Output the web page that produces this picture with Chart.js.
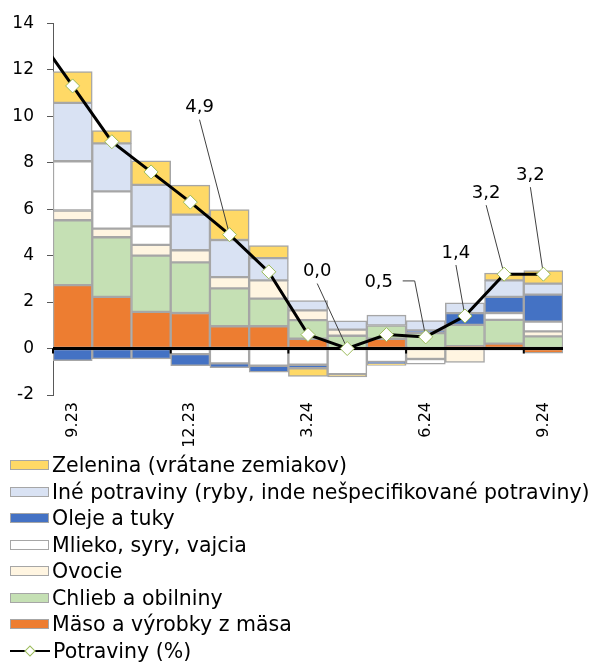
<!DOCTYPE html>
<html lang="sk">
<head>
<meta charset="UTF-8">
<title>Potraviny - príspevky</title>
<style>
  html, body { margin: 0; padding: 0; background: #fff; }
  .wrap { position: relative; width: 594px; height: 664px; overflow: hidden; }
  .chart-box { position: absolute; left: 0; top: 0; width: 594px; height: 455px; }
  #legend { position: absolute; left: 10px; top: 452px; font-family: "DejaVu Sans", Verdana, sans-serif; font-size: 20.5px; color: #000; }
  #legend ul { list-style: none; margin: 0; padding: 0; }
  #legend li { height: 26.5px; display: flex; align-items: center; white-space: nowrap; }
  #legend .box { width: 37px; height: 8px; border: 1.5px solid #a6a6a6; margin-right: 3px; }
  #legend .ln { position: relative; width: 40px; height: 2px; background: #000; margin-right: 3px; }
  #legend .ln i { position: absolute; left: 16px; top: -3px; width: 6px; height: 6px; background: #fff; border: 1px solid #9bbb59; transform: rotate(45deg); }
</style>
</head>
<body>
<div class="wrap">
  <div class="chart-box"><canvas id="myChart"></canvas></div>
  <div id="legend"></div>
</div>
<script src="https://cdn.jsdelivr.net/npm/chart.js@4.4.1/dist/chart.umd.min.js"></script>
<script>
// mesiace (prvy, 8.23, je len kvoli ciare, ktora vchadza z lava)
var months = ['8.23', '9.23', '10.23', '11.23', '12.23', '1.24', '2.24', '3.24', '4.24', '5.24', '6.24', '7.24', '8.24', '9.24'];
var shownMonths = ['9.23', '12.23', '3.24', '6.24', '9.24'];

// prispevky (p.b.)
var maso     = [null, 2.73, 2.22, 1.58, 1.53, 0.96, 0.96, 0.42, null, 0.42, null, 0.10, 0.21, -0.20];
var chlieb   = [null, 2.79, 2.57, 2.42, 2.18, 1.63, 1.19, 0.80, 0.55, 0.57, 0.66, 0.92, 1.02, 0.52];
var ovocie   = [null, 0.42, 0.37, 0.46, 0.52, 0.48, 0.78, 0.42, 0.26, null, -0.45, -0.60, -0.07, 0.22];
var mlieko   = [null, 2.12, 1.60, 0.80, -0.24, -0.64, -0.74, -0.70, -1.10, -0.58, -0.22, null, 0.30, 0.42];
var oleje    = [null, -0.52, -0.45, -0.45, -0.50, -0.18, -0.28, -0.15, null, -0.08, 0.12, 0.50, 0.69, 1.16];
var ine      = [null, 2.51, 2.07, 1.78, 1.53, 1.60, 0.96, 0.42, 0.38, 0.45, 0.42, 0.45, 0.71, 0.47];
var zelenina = [null, 1.35, 0.55, 1.04, 1.27, 1.31, 0.54, -0.35, -0.12, -0.07, null, null, 0.32, 0.56];

// Potraviny (%) medzirocne
var potraviny = [13.7, 11.3, 8.9, 7.6, 6.3, 4.9, 3.3, 0.6, 0.0, 0.6, 0.5, 1.4, 3.2, 3.2];

// ktore body maju popis a kde ma byt (posun od bodu)
var noteIdx = [5, 8, 10, 11, 12, 13];
var noteDx  = [-30, -30, -47, -9, -18, -13];
var noteDy  = [-127, -77, -55, -63, -81, -99];

var fontName = '"DejaVu Sans", Verdana, sans-serif';
var greyEdge = '#a6a6a6';

function barSet(label, data, color) {
  return {
    type: 'bar',
    label: label,
    data: data,
    backgroundColor: color,
    borderColor: greyEdge,
    borderWidth: 1.5,
    borderSkipped: false,
    barPercentage: 1,
    categoryPercentage: 1
  };
}

var notesPlugin = {
  id: 'notes',
  beforeDatasetDraw: function (chart, args) {
    if (args.index !== 7) return;
    var ctx = chart.ctx;
    var x = chart.scales.x, y = chart.scales.y;
    var area = chart.chartArea;
    var y0 = y.getPixelForValue(0);
    ctx.save();
    // nulova os
    ctx.strokeStyle = '#000';
    ctx.lineWidth = 3;
    ctx.beginPath();
    ctx.moveTo(area.left, y0);
    ctx.lineTo(area.right, y0);
    ctx.stroke();
    // male znacky pri zobrazenych mesiacoch
    ctx.lineWidth = 2;
    shownMonths.forEach(function (m) {
      var i = months.indexOf(m);
      var bx = (x.getPixelForValue(i) + x.getPixelForValue(i - 1)) / 2;
      ctx.beginPath();
      ctx.moveTo(bx, y0);
      ctx.lineTo(bx, y0 + 5);
      ctx.stroke();
    });
    // odkazove ciary
    var pts = chart.getDatasetMeta(7).data;
    ctx.strokeStyle = '#404040';
    ctx.lineWidth = 1;
    noteIdx.forEach(function (i, k) {
      var p = pts[i];
      var lx = p.x + noteDx[k], ly = p.y + noteDy[k];
      ctx.beginPath();
      if (k === 2) {
        ctx.moveTo(lx + 24, ly - 1);
        ctx.lineTo(p.x - 11, ly - 1);
      } else {
        ctx.moveTo(lx, ly + 12);
      }
      ctx.lineTo(p.x, p.y);
      ctx.stroke();
    });
    ctx.restore();
  },
  afterDatasetsDraw: function (chart) {
    var ctx = chart.ctx;
    var pts = chart.getDatasetMeta(7).data;
    ctx.save();
    ctx.font = '18px ' + fontName;
    ctx.fillStyle = '#000';
    ctx.textAlign = 'center';
    ctx.textBaseline = 'middle';
    noteIdx.forEach(function (i, k) {
      var p = pts[i];
      ctx.fillText(potraviny[i].toFixed(1).replace('.', ','), p.x + noteDx[k], p.y + noteDy[k]);
    });
    ctx.restore();
  },
  afterUpdate: function (chart) {
    var items = Chart.defaults.plugins.legend.labels.generateLabels(chart);
    items.sort(function (a, b) { return a.datasetIndex - b.datasetIndex; });
    var bars = items.slice(0, 7).reverse();
    var html = '<ul>';
    bars.forEach(function (it) {
      html += '<li><span class="box" style="background:' + it.fillStyle + '"></span>' + it.text + '</li>';
    });
    html += '<li><span class="ln"><i></i></span>' + items[7].text + '</li>';
    html += '</ul>';
    document.getElementById('legend').innerHTML = html;
  }
};

var ctx = document.getElementById('myChart').getContext('2d');
var chart = new Chart(ctx, {
  data: {
    labels: months,
    datasets: [
      barSet('Mäso a výrobky z mäsa', maso, '#ed7d31'),
      barSet('Chlieb a obilniny', chlieb, '#c5e0b4'),
      barSet('Ovocie', ovocie, '#fff5e1'),
      barSet('Mlieko, syry, vajcia', mlieko, '#ffffff'),
      barSet('Oleje a tuky', oleje, '#4472c4'),
      barSet('Iné potraviny (ryby, inde nešpecifikované potraviny)', ine, '#d9e2f3'),
      barSet('Zelenina (vrátane zemiakov)', zelenina, '#ffd966'),
      {
        type: 'line',
        label: 'Potraviny (%)',
        data: potraviny,
        order: -1,
        clip: 0,
        borderColor: '#000',
        borderWidth: 3,
        pointStyle: 'rectRot',
        pointRadius: 7,
        pointBackgroundColor: '#fff',
        pointBorderColor: '#9bbb59',
        pointBorderWidth: 1,
        tension: 0
      }
    ]
  },
  options: {
    responsive: true,
    maintainAspectRatio: false,
    animation: false,
    events: [],
    layout: { padding: { top: 18, right: 31, left: 0, bottom: 0 } },
    plugins: {
      legend: { display: false },
      tooltip: { enabled: false }
    },
    scales: {
      x: {
        type: 'category',
        min: 1,
        stacked: true,
        offset: true,
        afterFit: function (s) { s.height = 60; },
        grid: { display: false, drawTicks: false },
        border: { display: false },
        ticks: {
          autoSkip: false,
          minRotation: 90,
          maxRotation: 90,
          padding: 7,
          color: '#000',
          font: { family: fontName, size: 16 },
          callback: function (v) {
            var m = this.getLabelForValue(v);
            return shownMonths.indexOf(m) >= 0 ? m : '';
          }
        }
      },
      y: {
        stacked: true,
        min: -2,
        max: 14,
        afterFit: function (s) { s.width = 53; },
        grid: { drawOnChartArea: false, drawTicks: true, tickLength: 6, tickColor: '#595959', tickWidth: 1 },
        border: { display: true, color: '#595959', width: 1 },
        ticks: {
          stepSize: 2,
          padding: 13,
          color: '#000',
          font: { family: fontName, size: 17 }
        }
      }
    }
  },
  plugins: [notesPlugin]
});
</script>
</body>
</html>
